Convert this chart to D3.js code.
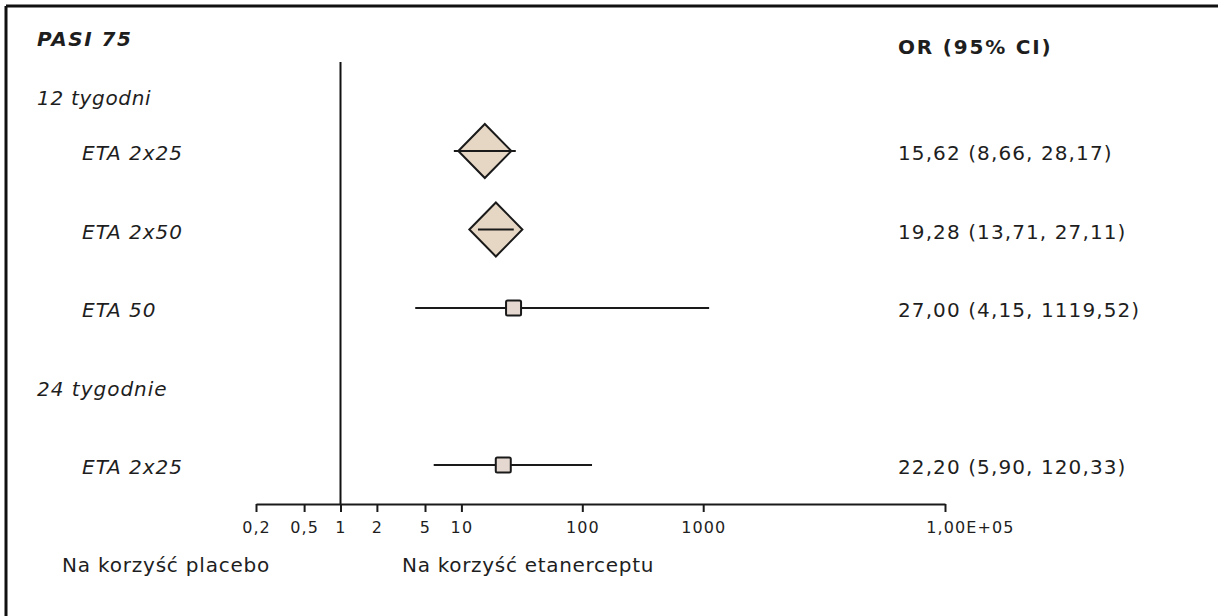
<!DOCTYPE html>
<html>
<head>
<meta charset="utf-8">
<script src="https://cdn.jsdelivr.net/npm/d3@7"></script>
<style>
  body { margin: 0; background: #fff; }
  svg { display: block; }
  text { font-family: "DejaVu Sans", Verdana, sans-serif; fill: #1e1e1e; }
</style>
</head>
<body>
<div id="chartDiv"></div>
<script>
// Forest plot - PASI 75, etanercept vs placebo

// data
var rowLabels = ["ETA 2x25", "ETA 2x50", "ETA 50", "24 tygodnie", "ETA 2x25"];
var rowKinds  = ["diamond", "diamond", "square", "header", "square"];
var orValues  = [15.62, 19.28, 27.00, null, 22.20];
var ciLower   = [8.66, 13.71, 4.15, null, 5.90];
var ciUpper   = [28.17, 27.11, 1119.52, null, 120.33];
var orTexts   = ["15,62 (8,66, 28,17)", "19,28 (13,71, 27,11)", "27,00 (4,15, 1119,52)", "", "22,20 (5,90, 120,33)"];
var tickValues = [0.2, 0.5, 1, 2, 5, 10, 100, 1000, 100000];
var tickLabels = ["0,2", "0,5", "1", "2", "5", "10", "100", "1000", "1,00E+05"];

var width = 1218;
var height = 616;

var svg = d3.select("#chartDiv")
            .append("svg")
            .attr("width", width)
            .attr("height", height);

// frame (only top and left edges show in the picture)
svg.append("line").attr("x1", 6).attr("x2", width).attr("y1", 6).attr("y2", 6)
   .attr("stroke", "#111").attr("stroke-width", 3);
svg.append("line").attr("x1", 6).attr("x2", 6).attr("y1", 6).attr("y2", height)
   .attr("stroke", "#111").attr("stroke-width", 3);

// scales
var xScale = d3.scaleLog()
               .domain([0.2, 100000])
               .range([256, 945]);

var yScale = d3.scaleLinear()
               .domain([0, rowLabels.length - 1])
               .range([151, 465]);

var axisY = 504;

// titles
svg.append("text")
   .attr("x", 37).attr("y", 46)
   .attr("font-size", 20).attr("font-weight", "bold").attr("font-style", "italic")
   .attr("letter-spacing", 1.5)
   .text("PASI 75");

svg.append("text")
   .attr("x", 898).attr("y", 54)
   .attr("font-size", 20).attr("font-weight", "bold")
   .attr("letter-spacing", 1.8)
   .text("OR (95% CI)");

svg.append("text")
   .attr("x", 37).attr("y", 105)
   .attr("font-size", 20).attr("font-style", "italic")
   .attr("letter-spacing", 0.7)
   .text("12 tygodni");

// reference line at OR = 1
svg.append("line")
   .attr("x1", xScale(1)).attr("x2", xScale(1))
   .attr("y1", 62).attr("y2", axisY)
   .attr("stroke", "#111").attr("stroke-width", 2);

// row labels
var rows = rowLabels.map(function(d, i) {
    return { label: d, kind: rowKinds[i], or: orValues[i], lo: ciLower[i], hi: ciUpper[i], txt: orTexts[i], i: i };
});

svg.selectAll(".rowLabel")
   .data(rows)
   .enter()
   .append("text")
   .attr("class", "rowLabel")
   .attr("x", function(d) { return d.kind === "header" ? 37 : 82; })
   .attr("y", function(d) { return yScale(d.i) + 9; })
   .attr("font-size", 20)
   .attr("font-style", "italic")
   .attr("letter-spacing", 1.0)
   .text(function(d) { return d.label; });

var est = rows.filter(function(d) { return d.or !== null; });

// diamonds first (line is drawn over them)
var dw = 26.5, dh = 27;
svg.selectAll(".diamond")
   .data(est.filter(function(d) { return d.kind === "diamond"; }))
   .enter()
   .append("path")
   .attr("class", "diamond")
   .attr("d", function(d) {
       var cx = xScale(d.or), cy = yScale(d.i);
       return "M" + (cx - dw) + "," + cy + "L" + cx + "," + (cy - dh) +
              "L" + (cx + dw) + "," + cy + "L" + cx + "," + (cy + dh) + "Z";
   })
   .attr("fill", "#e6d6c4")
   .attr("stroke", "#1a1a1a")
   .attr("stroke-width", 2);

// confidence intervals
svg.selectAll(".ci")
   .data(est)
   .enter()
   .append("line")
   .attr("class", "ci")
   .attr("x1", function(d) { return xScale(d.lo); })
   .attr("x2", function(d) { return xScale(d.hi); })
   .attr("y1", function(d) { return yScale(d.i); })
   .attr("y2", function(d) { return yScale(d.i); })
   .attr("stroke", "#1a1a1a")
   .attr("stroke-width", 2);

// squares
var sq = 15;
svg.selectAll(".square")
   .data(est.filter(function(d) { return d.kind === "square"; }))
   .enter()
   .append("rect")
   .attr("class", "square")
   .attr("x", function(d) { return xScale(d.or) - sq / 2; })
   .attr("y", function(d) { return yScale(d.i) - sq / 2; })
   .attr("width", sq)
   .attr("height", sq)
   .attr("rx", 1.5)
   .attr("fill", "#e4d8d0")
   .attr("stroke", "#1a1a1a")
   .attr("stroke-width", 2);

// OR texts on the right
svg.selectAll(".orText")
   .data(est)
   .enter()
   .append("text")
   .attr("class", "orText")
   .attr("x", 898)
   .attr("y", function(d) { return yScale(d.i) + 9; })
   .attr("font-size", 20)
   .attr("letter-spacing", 1.1)
   .text(function(d) { return d.txt; });

// x axis
var xAxis = d3.axisBottom(xScale)
              .tickValues(tickValues)
              .tickFormat(function(d, i) { return tickLabels[i]; })
              .tickSize(8)
              .tickSizeOuter(0);

var gAxis = svg.append("g")
               .attr("transform", "translate(0," + axisY + ")")
               .call(xAxis);

gAxis.select(".domain").attr("stroke", "#1a1a1a").attr("stroke-width", 2);
gAxis.selectAll(".tick line").attr("stroke", "#1a1a1a").attr("stroke-width", 2);
gAxis.selectAll(".tick text")
     .attr("font-family", "DejaVu Sans, Verdana, sans-serif")
     .attr("font-size", 16)
     .attr("letter-spacing", 1.1)
     .attr("fill", "#1e1e1e")
     .attr("dy", "1.1em")
     // the last label sits right of its tick in the original
     .attr("dx", function(d, i) { return i === tickValues.length - 1 ? 25 : 0; });

// bottom labels
svg.append("text")
   .attr("x", 62).attr("y", 572)
   .attr("font-size", 20)
   .attr("letter-spacing", 0.8)
   .text("Na korzyść placebo");

svg.append("text")
   .attr("x", 402).attr("y", 572)
   .attr("font-size", 20)
   .attr("letter-spacing", 0.7)
   .text("Na korzyść etanerceptu");
</script>
</body>
</html>
